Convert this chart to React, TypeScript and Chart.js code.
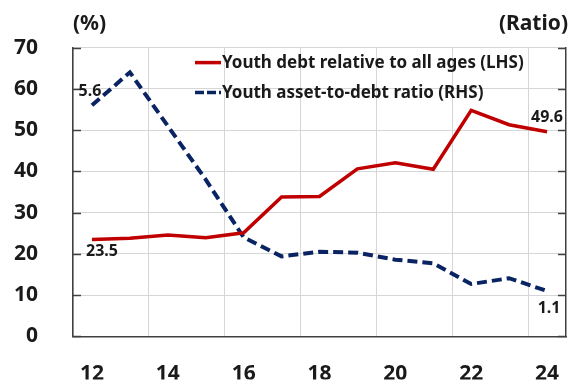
import React, { useEffect, useRef } from "react";
import { Chart, registerables } from "chart.js";

Chart.register(...registerables);

const years = ["12", "13", "14", "15", "16", "17", "18", "19", "20", "21", "22", "23", "24"];
const debtShare = [23.5, 23.8, 24.6, 23.9, 25.1, 33.8, 33.9, 40.6, 42.1, 40.5, 54.8, 51.3, 49.6];
const assetDebtRatio = [5.6, 6.4, 5.1, 3.8, 2.4, 1.94, 2.05, 2.03, 1.86, 1.77, 1.27, 1.41, 1.1];
const debtLabel = "Youth debt relative to all ages (LHS)";
const ratioLabel = "Youth asset-to-debt ratio (RHS)";
const leftTitle = "(%)";
const rightTitle = "(Ratio)";

const RED = "#C00000";
const NAVY = "#0A2463";
const FONT = "'Noto Sans', 'Open Sans', sans-serif";

const decorPlugin = {
  id: "decor",
  afterDraw(chart: any) {
    const { ctx, chartArea } = chart;
    const y = chart.scales.y;
    const x = chart.scales.x;
    const y1 = chart.scales.y1;
    ctx.save();
    // inward tick marks
    ctx.strokeStyle = "#404040";
    ctx.lineWidth = 1.5;
    y.ticks.forEach((t: any) => {
      const py = Math.round(y.getPixelForValue(t.value)) + 0.5;
      ctx.beginPath();
      ctx.moveTo(chartArea.left, py);
      ctx.lineTo(chartArea.left + 8, py);
      ctx.stroke();
    });
    y1.ticks.forEach((t: any) => {
      const py = Math.round(y1.getPixelForValue(t.value)) + 0.5;
      ctx.beginPath();
      ctx.moveTo(chartArea.right, py);
      ctx.lineTo(chartArea.right - 8, py);
      ctx.stroke();
    });
    // axis titles
    ctx.fillStyle = "#1a1a1a";
    ctx.font = `bold 21px ${FONT}`;
    ctx.textBaseline = "middle";
    ctx.textAlign = "left";
    ctx.fillText(leftTitle, chartArea.left, 24);
    ctx.textAlign = "right";
    ctx.fillText(rightTitle, chartArea.right + 2, 24);

    // legend
    const lx = chartArea.left + 122;
    const rows = [
      { label: debtLabel, color: RED, dash: [] as number[], y: chartArea.top + 15 },
      { label: ratioLabel, color: NAVY, dash: [9, 3], y: chartArea.top + 45 },
    ];
    ctx.font = `bold 17px ${FONT}`;
    ctx.textAlign = "left";
    rows.forEach((r) => {
      ctx.strokeStyle = r.color;
      ctx.lineWidth = 3.5;
      ctx.setLineDash(r.dash);
      ctx.beginPath();
      ctx.moveTo(lx, r.y);
      ctx.lineTo(lx + 26, r.y);
      ctx.stroke();
      ctx.setLineDash([]);
      ctx.fillStyle = "#1a1a1a";
      ctx.fillText(r.label, lx + 27, r.y + 1);
    });

    // data labels
    ctx.font = `bold 16px ${FONT}`;
    ctx.textAlign = "center";
    const n = years.length - 1;
    const fx = x.getPixelForValue(0);
    const lxp = x.getPixelForValue(n);
    ctx.fillText(assetDebtRatio[0].toFixed(1), fx - 2, y1.getPixelForValue(assetDebtRatio[0]) - 14);
    ctx.fillText(debtShare[0].toFixed(1), fx + 10, y.getPixelForValue(debtShare[0]) + 12);
    ctx.fillText(debtShare[n].toFixed(1), lxp, y.getPixelForValue(debtShare[n]) - 14);
    ctx.fillText(assetDebtRatio[n].toFixed(1), lxp + 2, y1.getPixelForValue(assetDebtRatio[n]) + 17);
    ctx.restore();
  },
};

export default function App() {
  const ref = useRef<HTMLCanvasElement>(null);
  useEffect(() => {
    document.body.style.margin = "0";
    const chart = new Chart(ref.current!, {
      type: "line",
      data: {
        labels: years,
        datasets: [
          {
            label: debtLabel,
            data: debtShare,
            borderColor: RED,
            borderWidth: 3.5,
            pointRadius: 0,
            tension: 0,
            yAxisID: "y",
          },
          {
            label: ratioLabel,
            data: assetDebtRatio,
            borderColor: NAVY,
            borderWidth: 4,
            borderDash: [10, 5],
            pointRadius: 0,
            tension: 0,
            yAxisID: "y1",
          },
        ],
      },
      options: {
        responsive: false,
        animation: false,
        layout: { padding: { left: 0, right: 4, top: 42, bottom: 0 } },
        plugins: { legend: { display: false }, tooltip: { enabled: false } },
        scales: {
          x: {
            offset: true,
            grid: {
              offset: true,
              drawTicks: true,
              tickLength: 25,
              tickColor: "rgba(0,0,0,0)",
              color: (c: any) => (c.index % 2 === 0 ? "#d6d6d6" : "rgba(0,0,0,0)"),
              lineWidth: 1,
            },
            border: { color: "#404040", width: 1.5 },
            ticks: {
              autoSkip: false,
              maxRotation: 0,
              padding: 0,
              color: "#1a1a1a",
              font: { family: FONT, size: 21, weight: "bold" },
              callback: (_v: any, i: number) => (i % 2 === 0 ? years[i] : ""),
            },
            afterFit: (s: any) => {
              s.height = 43;
            },
          },
          y: {
            position: "left",
            min: 0,
            max: 70,
            ticks: {
              stepSize: 10,
              padding: 35,
              color: "#1a1a1a",
              font: { family: FONT, size: 21, weight: "bold" },
            },
            grid: { color: "#d6d6d6", drawTicks: false, lineWidth: 1 },
            border: { color: "#404040", width: 1.5 },
            afterFit: (s: any) => {
              s.width = 73;
            },
          },
          y1: {
            position: "right",
            min: 0,
            max: 7,
            ticks: { display: false, stepSize: 1 },
            grid: { display: false, drawTicks: false },
            border: { color: "#404040", width: 1.5 },
            afterFit: (s: any) => {
              s.width = 0;
            },
          },
        },
      },
      plugins: [decorPlugin],
    });
    return () => chart.destroy();
  }, []);
  return <canvas ref={ref} width={570} height={384} style={{ display: "block" }} />;
}
